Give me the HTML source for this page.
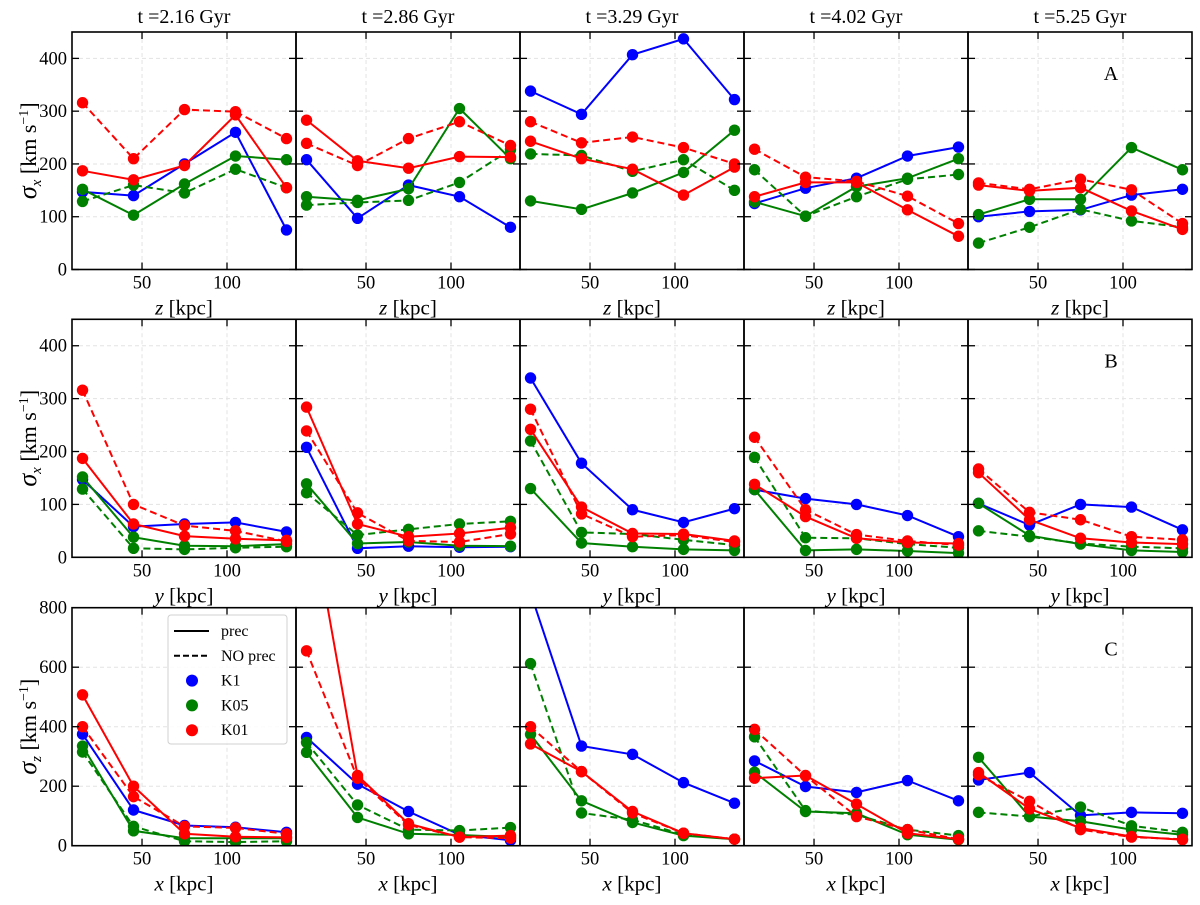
<!DOCTYPE html>
<html><head><meta charset="utf-8"><style>
body{margin:0;background:#fff}
svg text{font-family:"Liberation Serif","DejaVu Serif",serif;fill:#000}
</style></head><body>
<svg id="fig" width="1200" height="900" viewBox="0 0 1200 900" xmlns="http://www.w3.org/2000/svg"></svg>
<script>
const xs = [15, 45, 75, 105, 135];
const times = ["2.16", "2.86", "3.29", "4.02", "5.25"];
const xTicks = [50, 100];
const yTicksAB = [0, 100, 200, 300, 400];
const yTicksC = [0, 200, 400, 600, 800];
// Row A (sigma_x vs z): [blue solid, green solid, green dashed, red solid, red dashed] per column
const A_K1 = [[147,140,200,260,75],[208,97,160,138,80],[338,294,407,437,322],[125,154,173,215,232],[100,110,113,141,152]];
const A_K05 = [[152,103,162,215,208],[138,131,153,305,210],[130,114,145,184,264],[128,101,157,173,210],[104,133,133,231,189]];
const A_K05n = [[129,160,145,190,155],[122,127,131,165,227],[219,216,186,208,150],[189,101,138,171,180],[50,80,114,92,80]];
const A_K01 = [[187,170,197,293,155],[283,206,192,214,213],[243,210,190,141,194],[138,165,165,113,63],[160,149,155,111,76]];
const A_K01n = [[316,210,303,299,248],[239,197,248,280,235],[280,240,251,231,200],[228,175,167,139,87],[164,152,171,151,87]];
// Row B (sigma_x vs y)
const B_K1 = [[147,58,63,66,48],[208,17,21,19,20],[339,178,90,66,92],[128,111,100,79,39],[102,61,100,95,52]];
const B_K05 = [[152,38,22,21,25],[139,26,29,22,21],[130,27,20,15,13],[128,13,15,12,8],[102,41,25,13,10]];
const B_K05n = [[129,17,15,18,20],[122,42,53,63,68],[220,47,44,33,23],[189,37,36,25,18],[50,39,26,20,17]];
const B_K01 = [[187,63,40,35,32],[284,63,39,45,56],[242,95,45,44,31],[138,77,36,28,26],[160,71,36,28,25]];
const B_K01n = [[316,100,60,50,30],[239,84,31,29,44],[280,82,39,42,29],[227,90,43,31,23],[167,85,71,39,33]];
// Row C (sigma_z vs x)
const C_K1 = [[375,120,68,62,45],[364,207,115,37,18],[850,335,307,212,143],[285,199,179,219,151],[221,246,102,112,109]];
const C_K05 = [[335,50,25,25,25],[314,95,40,36,29],[374,151,78,34,22],[247,115,109,37,20],[297,98,82,54,37]];
const C_K05n = [[315,65,15,12,15],[347,137,54,51,61],[612,110,87,37,22],[366,118,104,54,34],[112,98,130,67,45]];
const C_K01 = [[507,200,40,30,28],[1200,236,74,29,34],[342,249,115,42,22],[227,236,140,42,22],[246,124,59,31,20]];
const C_K01n = [[400,165,65,60,40],[655,227,70,29,25],[400,249,110,42,22],[391,235,98,54,22],[238,149,54,29,22]];

const NS = "http://www.w3.org/2000/svg";
const svg = document.getElementById('fig');
function mk(tag, attrs, parent) {
  const e = document.createElementNS(NS, tag);
  for (const k in attrs) e.setAttribute(k, attrs[k]);
  (parent || svg).appendChild(e);
  return e;
}
const colX0 = 72, colW = 224;
const XMIN = 8.8, XMAX = 140.6;
const rows = [
  {top: 32, bot: 269.5, ymax: 450, ticks: yTicksAB, lab: "z", sig: "x", letter: "A", data: [A_K1, A_K05, A_K05n, A_K01, A_K01n]},
  {top: 319.3, bot: 557.3, ymax: 450, ticks: yTicksAB, lab: "y", sig: "x", letter: "B", data: [B_K1, B_K05, B_K05n, B_K01, B_K01n]},
  {top: 607.7, bot: 845.7, ymax: 800, ticks: yTicksC, lab: "x", sig: "z", letter: "C", data: [C_K1, C_K05, C_K05n, C_K01, C_K01n]}
];
const styles = [
  {c: "#0000ff", dash: null, name: "k1-prec"},
  {c: "#008000", dash: null, name: "k05-prec"},
  {c: "#008000", dash: "7,4", name: "k05-noprec"},
  {c: "#ff0000", dash: null, name: "k01-prec"},
  {c: "#ff0000", dash: "7,4", name: "k01-noprec"}
];
const defs = mk('defs', {});

rows.forEach((r, ri) => {
  for (let ci = 0; ci < 5; ci++) {
    const x0 = colX0 + ci * colW, x1 = x0 + colW;
    const sx = v => x0 + (v - XMIN) / (XMAX - XMIN) * colW;
    const sy = v => r.bot - v / r.ymax * (r.bot - r.top);
    const g = mk('g', {});
    
    
    const cid = 'clip' + ri + ci;
    const cp = mk('clipPath', {id: cid}, defs);
    mk('rect', {x: x0, y: r.top, width: colW, height: r.bot - r.top}, cp);
    xTicks.forEach(t => {
      const gl = mk('line', {x1: sx(t), x2: sx(t), y1: r.top, y2: r.bot, stroke: "#e3e3e3", "stroke-dasharray": "4,3", "stroke-width": 1}, g);
      
      
    });
    r.ticks.forEach(t => {
      if (t === 0) return;
      const gl = mk('line', {x1: x0, x2: x1, y1: sy(t), y2: sy(t), stroke: "#e3e3e3", "stroke-dasharray": "4,3", "stroke-width": 1}, g);
      
      
    });
    const sg = mk('g', {"clip-path": "url(#" + cid + ")"}, g);
    r.data.forEach((ser, si) => {
      const st = styles[si];
      const vals = ser[ci];
      const pts = vals.map((v, i) => sx(xs[i]).toFixed(1) + "," + sy(v).toFixed(1)).join(" ");
      const pl = mk('polyline', {points: pts, fill: "none", stroke: st.c, "stroke-width": 2}, sg);
      if (st.dash) pl.setAttribute('stroke-dasharray', st.dash);
      
      
      vals.forEach((v, i) => {
        const c = mk('circle', {cx: sx(xs[i]), cy: sy(v), r: 5.7, fill: st.c}, sg);
        
        
      });
    });
    xTicks.forEach(t => {
      mk('line', {x1: sx(t), x2: sx(t), y1: r.bot, y2: r.bot - 7, stroke: "#000", "stroke-width": 1.3}, g);
      mk('line', {x1: sx(t), x2: sx(t), y1: r.top, y2: r.top + 7, stroke: "#000", "stroke-width": 1.3}, g);
      const tl = mk('text', {x: sx(t), y: r.bot + 19, "font-size": 18.5, "text-anchor": "middle"}, g);
      tl.textContent = t;
      
      
    });
    r.ticks.forEach(t => {
      mk('line', {x1: x0, x2: x0 + 7, y1: sy(t), y2: sy(t), stroke: "#000", "stroke-width": 1.3}, g);
      mk('line', {x1: x1, x2: x1 - 7, y1: sy(t), y2: sy(t), stroke: "#000", "stroke-width": 1.3}, g);
      if (ci === 0) {
        const tl = mk('text', {x: x0 - 5, y: sy(t) + 6, "font-size": 18.5, "text-anchor": "end"}, g);
        tl.textContent = t;
        
        
      }
    });
    const fr = mk('rect', {x: x0, y: r.top, width: colW, height: r.bot - r.top, fill: "none", stroke: "#000", "stroke-width": 1.6}, g);
    
    
    const xl = mk('text', {x: (x0 + x1) / 2, y: r.bot + 45, "font-size": 21, "text-anchor": "middle"}, g);
    xl.innerHTML = '<tspan font-style="italic">' + r.lab + '</tspan> [kpc]';
    
    
    if (ci === 4) {
      const lt = mk('text', {x: 1111, y: r.top + 48, "font-size": 20, "text-anchor": "middle"}, g);
      lt.textContent = r.letter;
      
      
    }
    if (ri === 0) {
      const tt = mk('text', {x: (x0 + x1) / 2, y: 23, "font-size": 20, "text-anchor": "middle"}, g);
      tt.textContent = "t =" + times[ci] + " Gyr";
      
      
    }
  }
  const yl = mk('text', {x: 0, y: 0, "font-size": 22, "text-anchor": "middle", transform: "translate(36," + ((r.top + r.bot) / 2) + ") rotate(-90)"});
  yl.innerHTML = '<tspan font-style="italic" font-size="26">σ</tspan><tspan font-style="italic" font-size="15" dy="5">' + r.sig + '</tspan><tspan dy="-5"> [km s</tspan><tspan font-size="14" dy="-8">−1</tspan><tspan dy="8">]</tspan>';
  
  
});

const lg = mk('g', {});


mk('rect', {x: 168, y: 615, width: 119, height: 129, rx: 3, fill: "#fff", "fill-opacity": 0.85, stroke: "#d0d0d0", "stroke-width": 1}, lg);
const legItems = [
  {t: "prec", type: "line", dash: null},
  {t: "NO prec", type: "line", dash: "6,3"},
  {t: "K1", type: "dot", c: "#0000ff"},
  {t: "K05", type: "dot", c: "#008000"},
  {t: "K01", type: "dot", c: "#ff0000"}
];
legItems.forEach((it, i) => {
  const y = 631 + i * 24.8;
  const eg = mk('g', {}, lg);
  
  
  if (it.type === "line") {
    const l = mk('line', {x1: 174, x2: 209, y1: y, y2: y, stroke: "#000", "stroke-width": 2}, eg);
    if (it.dash) l.setAttribute('stroke-dasharray', it.dash);
  } else {
    mk('circle', {cx: 192, cy: y, r: 6, fill: it.c}, eg);
  }
  const tx = mk('text', {x: 221, y: y + 5, "font-size": 16}, eg);
  tx.textContent = it.t;
});
</script>
</body></html>
